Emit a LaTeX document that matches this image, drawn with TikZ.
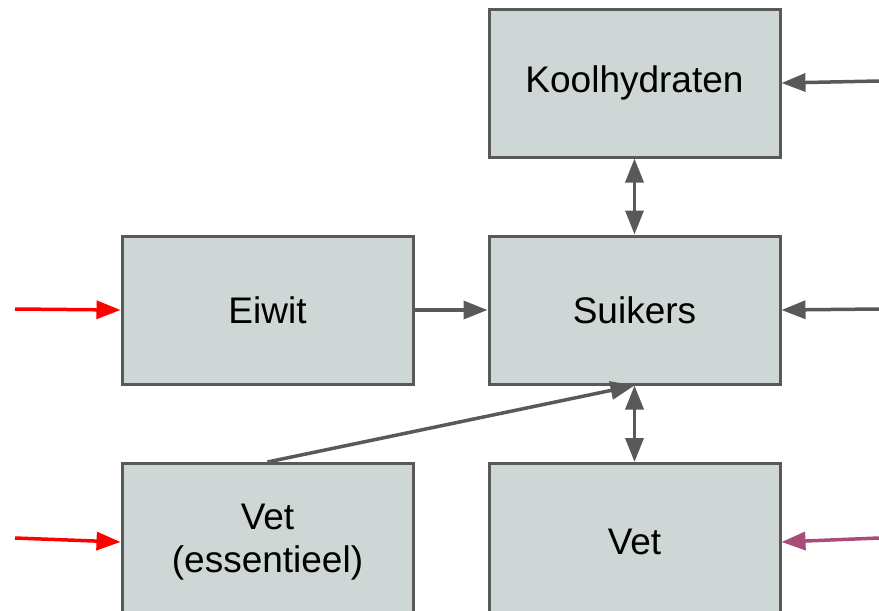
\documentclass[tikz,border=0pt]{standalone}
\usepackage{fontspec}
\setmainfont{Liberation Sans}
\usetikzlibrary{arrows.meta}
\definecolor{boxfill}{HTML}{CFD6D6}
\definecolor{boxline}{HTML}{595959}
\definecolor{inred}{HTML}{FF0000}
\definecolor{inpurple}{HTML}{A64D79}
\begin{document}
\begin{tikzpicture}[x=1pt,y=-1pt,
  blok/.style={draw=boxline, fill=boxfill, line width=3pt,
    minimum width=291pt, minimum height=148pt, inner sep=0pt,
    align=center, font=\fontsize{37}{43}\selectfont},
  pijl/.style={draw=boxline, line width=3.5pt,
    -{Triangle[length=24pt,width=18pt]}},
  dubbel/.style={draw=boxline, line width=3.5pt,
    {Triangle[length=24pt,width=18pt]}-{Triangle[length=24pt,width=18pt]}},
  rood/.style={pijl, draw=inred, -{Triangle[length=24pt,width=18pt,fill=inred]}},
  paars/.style={pijl, draw=inpurple, -{Triangle[length=24pt,width=18pt,fill=inpurple]}}
]
\useasboundingbox (0,0) rectangle (879,611);
\clip (0,0) rectangle (879,611);

% boxes
\node[blok] (kh) at (634.5,83) {Koolhydraten};
\node[blok] (ew) at (267.5,310) {Eiwit};
\node[blok] (su) at (634.5,310) {Suikers};
\node[blok, minimum height=157pt, anchor=north] (ve) at (267.5,462)
  {Vet\\(essentieel)};
\node[blok, minimum height=157pt, anchor=north] (vt) at (634.5,462) {Vet};

% free ends of the incoming arrows
\coordinate (inkh) at (879,81);
\coordinate (insu) at (879,309);
\coordinate (invt) at (879,538);
\coordinate (inew) at (15,309);
\coordinate (inve) at (15,538);

% connectors
\draw[pijl] (inkh) -- (kh.east);
\draw[pijl] (insu) -- (su.east);
\draw[paars] (invt) -- (vt.east);
\draw[rood] (inew) -- (ew.west);
\draw[rood] (inve) -- (ve.west);
\draw[pijl] (ew.east) -- (su.west);
\draw[dubbel] (kh.south) -- (su.north);
\draw[dubbel] (su.south) -- (vt.north);
\draw[pijl] (ve.north) -- (su.south);
\end{tikzpicture}
\end{document}
